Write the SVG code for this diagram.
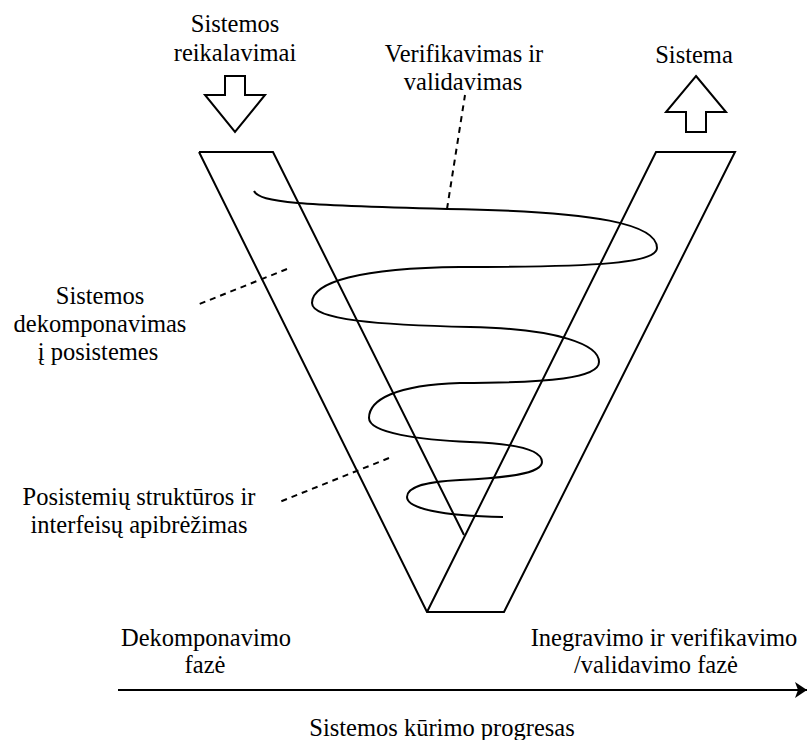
<svg xmlns="http://www.w3.org/2000/svg" width="807" height="740" viewBox="0 0 807 740">
  <style>
    .ln { fill: none; stroke: #000; stroke-width: 2; stroke-linejoin: miter; }
    .dash { fill: none; stroke: #000; stroke-width: 2; stroke-dasharray: 6 5; }
    .blk { fill: #fff; stroke: #000; stroke-width: 2; }
    .lbl { font-family: 'Liberation Serif', 'DejaVu Serif', serif; font-size: 24.5px; fill: #000; text-anchor: middle; }
  </style>
  <defs>
    <marker id="arrowhead" viewBox="0 0 12 16" refX="12" refY="8" markerWidth="12" markerHeight="16" markerUnits="userSpaceOnUse" orient="auto">
      <path d="M0,0 L12,8 L0,16 L3,8 Z" fill="#000"/>
    </marker>
  </defs>

  <rect width="807" height="740" fill="#fff"/>

  <!-- V-shaped decomposition / integration strips -->
  <g id="v-shape">
    <path class="ln" d="M199,152 L273,152 L464,535"/>
    <path class="ln" d="M199,152 L427,612 L504,612 L735,152 L656,152 L427,612"/>
  </g>

  <!-- input / output block arrows -->
  <g id="input-arrow">
    <path class="blk" d="M225,76 L245,76 L245,95 L265,95 L235,132 L205,95 L225,95 Z"/>
    <text class="lbl" x="235" y="32">Sistemos</text>
    <text class="lbl" x="235" y="61">reikalavimai</text>
  </g>
  <g id="output-arrow">
    <path class="blk" d="M696,76 L726,112 L706,112 L706,132 L686,132 L686,112 L666,112 Z"/>
    <text class="lbl" x="694" y="63">Sistema</text>
  </g>

  <!-- verification / validation spiral -->
  <g id="spiral">
    <path class="ln" d="M254,191 C260,203 300,205 447,209
      C600,211 657,225 657,248
      C657,263 600,267 460,267
      C360,268 312,282 312,303
      C312,320 380,325 470,327
      C560,329 599,345 599,362
      C599,378 550,383 460,383
      C395,385 369,400 369,418
      C369,433 420,440 470,442
      C525,444 542,452 542,462
      C542,474 505,478 460,480
      C420,482 407,488 407,497
      C407,508 440,516 503,517"/>
  </g>

  <!-- callouts and progress axis -->
  <g id="connectors">
    <line class="dash" x1="447" y1="209" x2="465" y2="95"/>
    <line class="dash" x1="287" y1="269" x2="197" y2="305"/>
    <line class="dash" x1="389" y1="458" x2="277" y2="503"/>
    <line class="ln" x1="118" y1="690" x2="807" y2="690" marker-end="url(#arrowhead)"/>
  </g>

  <g id="label-verification">
    <text class="lbl" x="464" y="62">Verifikavimas ir</text>
    <text class="lbl" x="463" y="90">validavimas</text>
  </g>
  <g id="label-decomposition">
    <text class="lbl" x="100" y="304">Sistemos</text>
    <text class="lbl" x="100" y="332">dekomponavimas</text>
    <text class="lbl" x="98" y="360">į posistemes</text>
  </g>
  <g id="label-interfaces">
    <text class="lbl" x="139" y="505">Posistemių struktūros ir</text>
    <text class="lbl" x="139" y="533">interfeisų apibrėžimas</text>
  </g>
  <g id="label-phases">
    <text class="lbl" x="206" y="646">Dekomponavimo</text>
    <text class="lbl" x="205" y="673">fazė</text>
    <text class="lbl" x="664" y="646">Inegravimo ir verifikavimo</text>
    <text class="lbl" x="656" y="673">/validavimo fazė</text>
    <text class="lbl" x="442" y="736">Sistemos kūrimo progresas</text>
  </g>
</svg>
